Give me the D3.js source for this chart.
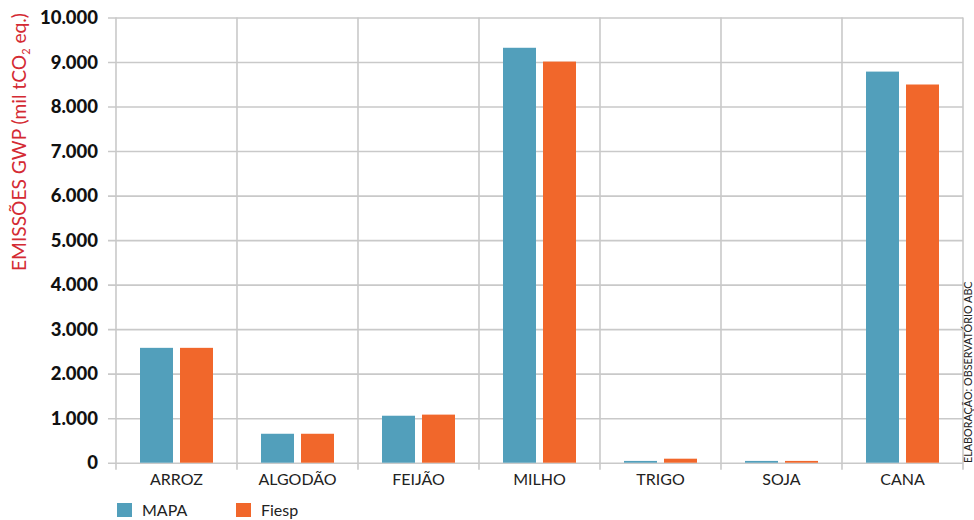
<!DOCTYPE html>
<html>
<head>
<meta charset="utf-8">
<script src="https://cdn.jsdelivr.net/npm/d3@7/dist/d3.min.js"></script>
<style>
  html, body { margin: 0; padding: 0; background: #fff; }
  svg { display: block; }
</style>
</head>
<body>
<svg id="chart" width="974" height="520"></svg>
<script>
// Emissões GWP por cultura (mil tCO2 eq.)
const categories = ["ARROZ", "ALGODÃO", "FEIJÃO", "MILHO", "TRIGO", "SOJA", "CANA"];
const seriesNames = ["MAPA", "Fiesp"];
const mapaValues = [2580, 650, 1055, 9320, 40, 40, 8785];
const fiespValues = [2580, 650, 1080, 9010, 90, 40, 8495];
const yTicks = [0, 1000, 2000, 3000, 4000, 5000, 6000, 7000, 8000, 9000, 10000];
const colors = ["#529fbb", "#f1672b"];

const svg = d3.select("#chart");
const margin = { left: 116, right: 11, top: 17.5, bottom: 57.3 };
const W = 974, H = 520;
const x0 = margin.left, x1 = W - margin.right;
const yTop = margin.top, yBase = H - margin.bottom;

const x = d3.scaleBand().domain(categories).range([x0, x1]).padding(0);
const inner = d3.scaleBand().domain(seriesNames).range([24, x.bandwidth() - 24]).paddingInner(0.175);
const y = d3.scaleLinear().domain([0, 10000]).range([yBase, yTop]);

const fmt = d3.formatLocale({ decimal: ",", thousands: ".", grouping: [3], currency: ["R$", ""] }).format(",d");
const gridColor = "#c9c9c9";

// horizontal gridlines with left tick stubs
svg.append("g")
  .attr("transform", `translate(${x0},0)`)
  .call(d3.axisLeft(y).tickValues(yTicks).tickSize(-(x1 - x0)).tickFormat(fmt).tickPadding(18))
  .call(g => g.select(".domain").remove())
  .call(g => g.selectAll(".tick line").attr("stroke", gridColor).attr("stroke-width", 1.6).attr("x1", -(x0 - 108)))
  .call(g => g.selectAll(".tick text")
    .attr("fill", "#111").attr("font-family", "Lato, sans-serif").attr("font-weight", 900)
    .attr("font-size", 18.5).attr("dy", "0.34em"));

// vertical gridlines at band edges, extending below the baseline
const edges = categories.map(c => x(c)).concat([x1]);
svg.append("g").selectAll("line").data(edges).join("line")
  .attr("x1", d => d).attr("x2", d => d)
  .attr("y1", yTop).attr("y2", yBase + 7)
  .attr("stroke", gridColor).attr("stroke-width", 1.6);

// bars
const rows = categories.map((c, i) => ({ cat: c, vals: [mapaValues[i], fiespValues[i]] }));
svg.append("g").selectAll("g").data(rows).join("g")
  .attr("transform", d => `translate(${x(d.cat)},0)`)
  .selectAll("rect").data(d => d.vals.map((v, j) => ({ s: seriesNames[j], v, j })))
  .join("rect")
  .attr("x", d => inner(d.s))
  .attr("width", inner.bandwidth())
  .attr("y", d => y(d.v))
  .attr("height", d => yBase - y(d.v))
  .attr("fill", d => colors[d.j]);

// category labels
svg.append("g").selectAll("text").data(categories).join("text")
  .attr("x", d => x(d) + x.bandwidth() / 2)
  .attr("y", yBase + 22)
  .attr("text-anchor", "middle")
  .attr("font-family", "Lato, sans-serif").attr("font-size", 16)
  .attr("fill", "#222")
  .text(d => d);

// y-axis title
const title = svg.append("text")
  .attr("transform", "translate(26,142) rotate(-90)")
  .attr("text-anchor", "middle")
  .attr("font-family", "Lato, sans-serif").attr("font-size", 19.2)
  .attr("fill", "#d42a33");
title.append("tspan").text("EMISSÕES GWP (mil tCO");
title.append("tspan").attr("font-size", 11).attr("dy", 4).text("2");
title.append("tspan").attr("dy", -4).text(" eq.)");

// credit line on the right
svg.append("text")
  .attr("transform", "translate(972,463) rotate(-90)")
  .attr("font-family", "Lato, sans-serif").attr("font-size", 10.8)
  .attr("fill", "#222")
  .text("ELABORAÇÃO: OBSERVATÓRIO ABC");

// legend
const legend = svg.append("g").selectAll("g").data(seriesNames).join("g")
  .attr("transform", (d, i) => `translate(${117 + i * 119},503)`);
legend.append("rect").attr("width", 15).attr("height", 14).attr("fill", (d, i) => colors[i]);
legend.append("text").attr("x", 25).attr("y", 13)
  .attr("font-family", "Lato, sans-serif").attr("font-size", 16).attr("fill", "#222")
  .text(d => d);
</script>
</body>
</html>
